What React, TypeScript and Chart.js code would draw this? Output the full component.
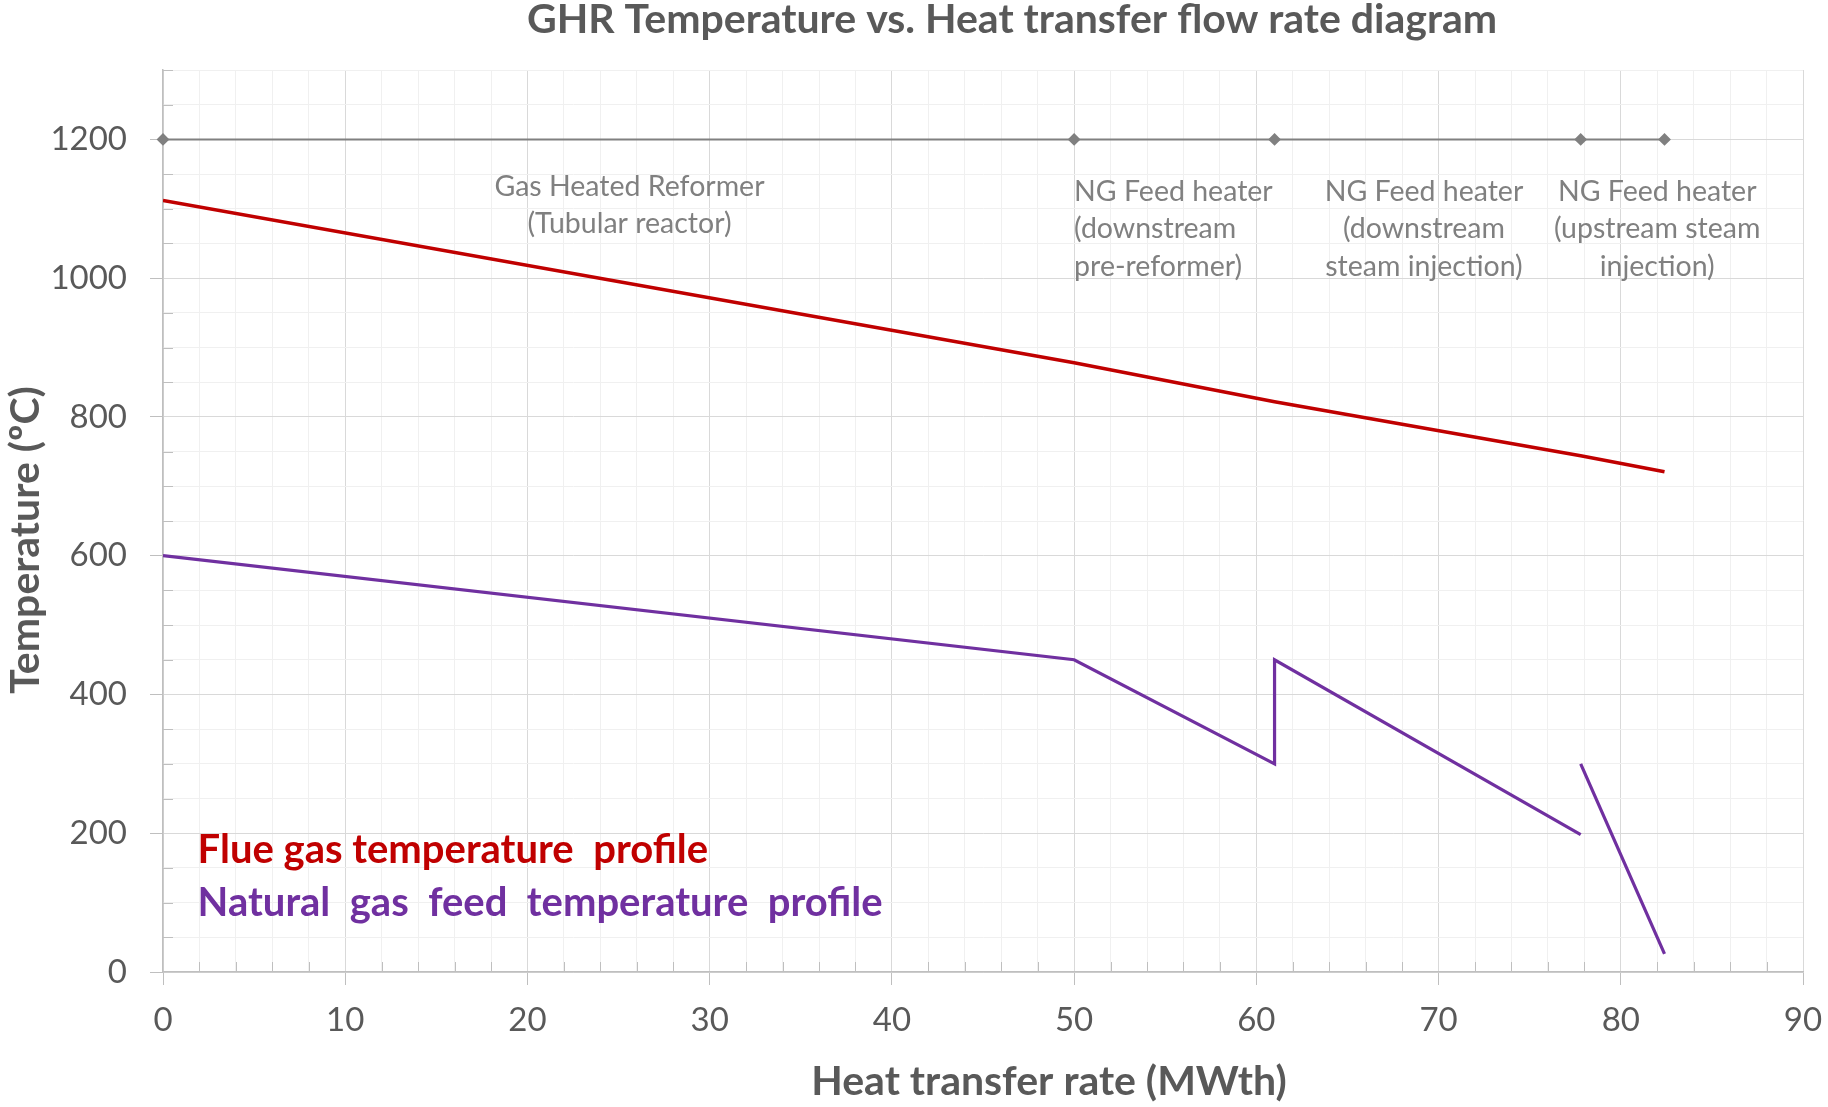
import React, { useEffect, useRef } from 'react';
import { Chart, registerables } from 'chart.js';

Chart.register(...registerables);

// heat transfer rate (MWth) at the section boundaries
const heatX = [0, 50, 61, 77.8, 82.4];
const headerTemp = [1200, 1200, 1200, 1200, 1200];
const flueTemp = [1112, 878, 822, 744, 721];

// feed profile, null breaks the line between the last two heaters
const feedX = [0, 50, 61, 61, 77.8, 77.8, 77.8, 82.4];
const feedTemp = [600, 450, 300, 450, 198, null, 300, 26];

const sectionNames = [
    ['Gas Heated Reformer', '(Tubular reactor)'],
    ['NG Feed heater', '(downstream', 'pre-reformer)'],
    ['NG Feed heater', '(downstream', 'steam injection)'],
    ['NG Feed heater', '(upstream steam', 'injection)'],
];
const sectionAt = [25.6, 50, 69.2, 82.0];
const sectionTop = [1132, 1125, 1125, 1125];

const legendNames = ['Flue gas temperature  profile', 'Natural  gas  feed  temperature  profile'];

const chartTitle = 'GHR Temperature vs. Heat transfer flow rate diagram';
const xTitle = 'Heat transfer rate (MWth)';
const yTitle = 'Temperature (ºC)';

const RED = '#c00000';
const PURPLE = '#7030a0';
const GREY = '#808080';
const TEXT = '#595959';

const toPoints = (xs: number[], ys: (number | null)[]) => xs.map((x, i) => ({ x, y: ys[i] }));

const overlay = {
    id: 'overlay',
    beforeDatasetsDraw(chart: any) {
        const { ctx, chartArea, scales } = chart;
        ctx.save();
        ctx.strokeStyle = '#bfbfbf';
        ctx.lineWidth = 1;
        // small inner minor ticks like excel
        for (let v = 0; v <= 90; v += 2) {
            if (v % 10 === 0) continue;
            const px = Math.round(scales.x.getPixelForValue(v)) + 0.5;
            ctx.beginPath();
            ctx.moveTo(px, chartArea.bottom);
            ctx.lineTo(px, chartArea.bottom - 10);
            ctx.stroke();
        }
        for (let v = 0; v <= 1300; v += 50) {
            if (v % 200 === 0) continue;
            const py = Math.round(scales.y.getPixelForValue(v)) + 0.5;
            ctx.beginPath();
            ctx.moveTo(chartArea.left, py);
            ctx.lineTo(chartArea.left + 10, py);
            ctx.stroke();
        }
        ctx.restore();
    },
    afterDatasetsDraw(chart: any) {
        const { ctx, scales, width } = chart;
        ctx.save();
        ctx.textBaseline = 'middle';

        // section labels
        ctx.fillStyle = GREY;
        ctx.font = '28.5px Lato';
        sectionNames.forEach((lines, i) => {
            ctx.textAlign = i === 1 ? 'left' : 'center';
            const px = scales.x.getPixelForValue(sectionAt[i]);
            const py = scales.y.getPixelForValue(sectionTop[i]);
            lines.forEach((t, j) => ctx.fillText(t, px, py + j * 37.5));
        });

        // legend text inside the plot
        ctx.textAlign = 'left';
        ctx.font = 'bold 40px Lato';
        ctx.fillStyle = RED;
        ctx.fillText(legendNames[0], scales.x.getPixelForValue(1.9), scales.y.getPixelForValue(175));
        ctx.fillStyle = PURPLE;
        ctx.fillText(legendNames[1], scales.x.getPixelForValue(1.9), scales.y.getPixelForValue(100));

        // titles
        ctx.fillStyle = TEXT;
        ctx.textAlign = 'center';
        ctx.font = 'bold 41px Lato';
        ctx.fillText(chartTitle, width / 2 + 98, 20);
        ctx.font = 'bold 41px Lato';
        ctx.fillText(xTitle, 1049, 1082);
        ctx.translate(26, 540);
        ctx.rotate(-Math.PI / 2);
        ctx.fillText(yTitle, 0, 0);
        ctx.restore();
    },
};

const GhrChart: React.FC = () => {
    const chartRef = useRef<HTMLCanvasElement | null>(null);

    useEffect(() => {
        document.body.style.margin = '0';
        if (!chartRef.current) return;
        const ctx = chartRef.current.getContext('2d');
        if (!ctx) return;

        const myChart = new Chart(ctx, {
            type: 'scatter',
            data: {
                datasets: [
                    {
                        label: 'sections',
                        data: toPoints(heatX, headerTemp),
                        showLine: true,
                        clip: false,
                        borderColor: GREY,
                        backgroundColor: GREY,
                        borderWidth: 2,
                        pointStyle: 'rectRot',
                        pointRadius: 5,
                    },
                    {
                        label: 'Flue gas',
                        data: toPoints(heatX, flueTemp),
                        showLine: true,
                        borderColor: RED,
                        borderWidth: 3.5,
                        pointRadius: 0,
                    },
                    {
                        label: 'Natural gas feed',
                        data: toPoints(feedX, feedTemp),
                        showLine: true,
                        spanGaps: false,
                        borderColor: PURPLE,
                        borderWidth: 3.2,
                        pointRadius: 0,
                    },
                ],
            },
            options: {
                animation: false,
                responsive: false,
                layout: { padding: { top: 70, right: 25, left: 0, bottom: 0 } },
                plugins: {
                    legend: { display: false },
                    tooltip: { enabled: false },
                },
                scales: {
                    x: {
                        type: 'linear',
                        min: 0,
                        max: 90,
                        ticks: {
                            stepSize: 2,
                            autoSkip: false,
                            maxRotation: 0,
                            padding: 16,
                            color: TEXT,
                            font: { size: 33, family: 'Lato' },
                            callback: (v: any) => (v % 10 === 0 ? String(v) : ''),
                        },
                        grid: {
                            color: (c: any) => (c.tick && c.tick.value % 10 === 0 ? '#d9d9d9' : '#f0f0f0'),
                            tickColor: (c: any) => (c.tick && c.tick.value % 10 === 0 ? '#bfbfbf' : 'rgba(0,0,0,0)'),
                            tickLength: 13,
                        },
                        border: { color: '#bfbfbf', width: 1.5 },
                        afterFit: (s: any) => {
                            s.height = 135;
                            s.paddingLeft = 0;
                            s.paddingRight = 0;
                        },
                    },
                    y: {
                        min: 0,
                        max: 1300,
                        ticks: {
                            stepSize: 50,
                            autoSkip: false,
                            padding: 23,
                            color: TEXT,
                            font: { size: 33, family: 'Lato' },
                            callback: (v: any) => (v % 200 === 0 ? String(v) : ''),
                        },
                        grid: {
                            color: (c: any) => (c.tick && c.tick.value % 200 === 0 ? '#d9d9d9' : '#f0f0f0'),
                            tickColor: (c: any) => (c.tick && c.tick.value % 200 === 0 ? '#bfbfbf' : 'rgba(0,0,0,0)'),
                            tickLength: 13,
                        },
                        border: { color: '#bfbfbf', width: 1.5 },
                        afterFit: (s: any) => {
                            s.width = 163;
                        },
                    },
                },
            },
            plugins: [overlay],
        });

        return () => {
            myChart.destroy();
        };
    }, []);

    return <canvas ref={chartRef} width="1828" height="1107" />;
};

export default function App() {
    return (
        <div style={{ width: 1828, height: 1107, background: '#ffffff' }}>
            <GhrChart />
        </div>
    );
}
